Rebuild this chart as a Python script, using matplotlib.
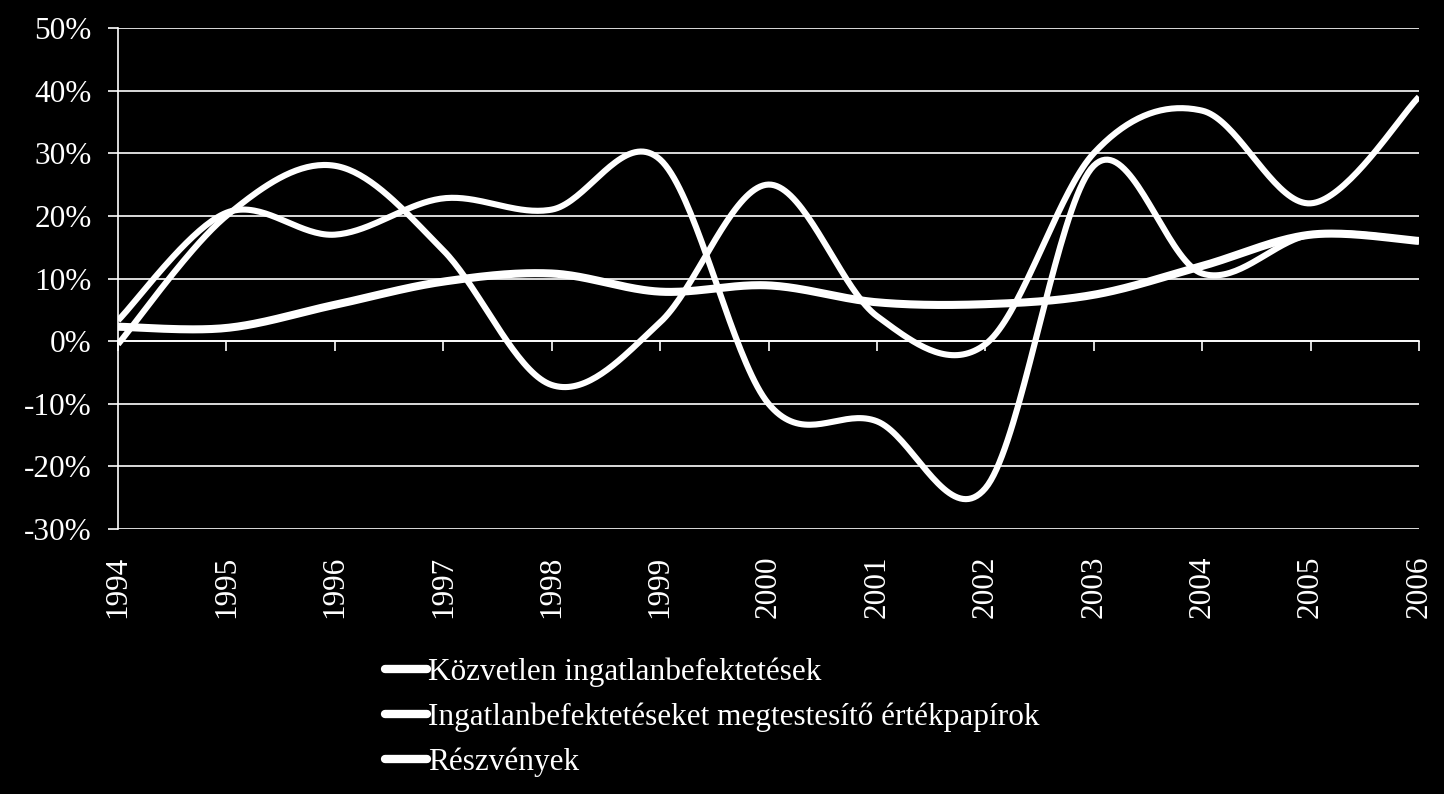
import matplotlib.pyplot as plt
import numpy as np

# adatok (%)
evek = list(range(1994, 2007))
kozvetlen = [2.3, 2.1, 5.8, 9.5, 10.8, 7.9, 8.9, 6.2, 5.9, 7.4, 12.0, 17.0, 16.0]
ertekpapir = [-0.5, 20.0, 28.0, 14.5, -7.0, 3.0, 25.0, 4.0, -0.5, 30.0, 36.8, 22.0, 39.0]
reszveny = [3.3, 20.5, 17.0, 22.8, 21.0, 29.0, -10.0, -12.8, -23.5, 28.0, 10.8, 17.0, 16.0]
nevek = ["Közvetlen ingatlanbefektetések",
         "Ingatlanbefektetéseket megtestesítő értékpapírok",
         "Részvények"]
y_tickek = [-30, -20, -10, 0, 10, 20, 30, 40, 50]


def simitas(x, y, n=40):
    # Excel-szeru simitott vonal (Bezier, Catmull-Rom erintokkel)
    x = np.asarray(x, float)
    y = np.asarray(y, float)
    px = np.concatenate([[x[0]], x, [x[-1]]])
    py = np.concatenate([[y[0]], y, [y[-1]]])
    t = np.linspace(0, 1, n)
    xs, ys = [], []
    for i in range(len(x) - 1):
        x0, y0 = x[i], y[i]
        x3, y3 = x[i + 1], y[i + 1]
        x1 = x0 + (px[i + 2] - px[i]) / 6
        y1 = y0 + (py[i + 2] - py[i]) / 6
        x2 = x3 - (px[i + 3] - px[i + 1]) / 6
        y2 = y3 - (py[i + 3] - py[i + 1]) / 6
        a = (1 - t) ** 3
        b = 3 * (1 - t) ** 2 * t
        c = 3 * (1 - t) * t ** 2
        d = t ** 3
        xs.extend(a * x0 + b * x1 + c * x2 + d * x3)
        ys.extend(a * y0 + b * y1 + c * y2 + d * y3)
    return np.array(xs), np.array(ys)


plt.rcParams['font.family'] = ['Liberation Serif', 'DejaVu Serif']

fig = plt.figure(figsize=(14.44, 7.94), dpi=100, facecolor='black')
ax = fig.add_axes([118 / 1444, 1 - 529 / 794, 1301 / 1444, 501 / 794])
ax.set_facecolor('black')

sorozatok = [(kozvetlen, 5.8), (ertekpapir, 4.4), (reszveny, 4.4)]
vonalak = []
for (adat, lw), nev in zip(sorozatok, nevek):
    sx, sy = simitas(evek, adat)
    l, = ax.plot(sx, sy, color='white', lw=lw, solid_capstyle='butt', label=nev)
    vonalak.append(l)

ax.set_xlim(evek[0], evek[-1])
ax.set_ylim(-30, 50)
ax.set_yticks(y_tickek)
ax.set_yticklabels([f"{v}%" for v in y_tickek])
ax.set_xticks(evek)
ax.set_xticklabels([str(e) for e in evek])

ax.grid(axis='y', color='white', lw=1.2)
ax.set_axisbelow(True)

for s in ['right', 'bottom']:
    ax.spines[s].set_visible(False)
ax.spines['left'].set_color('white')
ax.spines['left'].set_linewidth(1.2)
ax.spines['top'].set_position(('data', 0))
ax.spines['top'].set_color('white')
ax.spines['top'].set_linewidth(1.2)

ax.tick_params(axis='y', colors='white', labelsize=22.5, length=7, width=1.2, pad=12)
ax.tick_params(axis='x', colors='white', labelsize=22.5, top=True, bottom=False,
               direction='in', length=7, width=1.2, labelbottom=True,
               labeltop=False, pad=19, labelrotation=90)

leg = fig.legend(handles=vonalak, labels=nevek, loc='upper left',
                 bbox_to_anchor=(372 / 1444, 1 - 645 / 794), frameon=False,
                 fontsize=22.5, handlelength=1.35, handletextpad=0.05,
                 labelspacing=0.5, borderaxespad=0)
for txt in leg.get_texts():
    txt.set_color('white')
for h in leg.get_lines():
    h.set_linewidth(6)
    h.set_solid_capstyle('round')

fig.savefig('out.png', dpi=100, facecolor='black')
